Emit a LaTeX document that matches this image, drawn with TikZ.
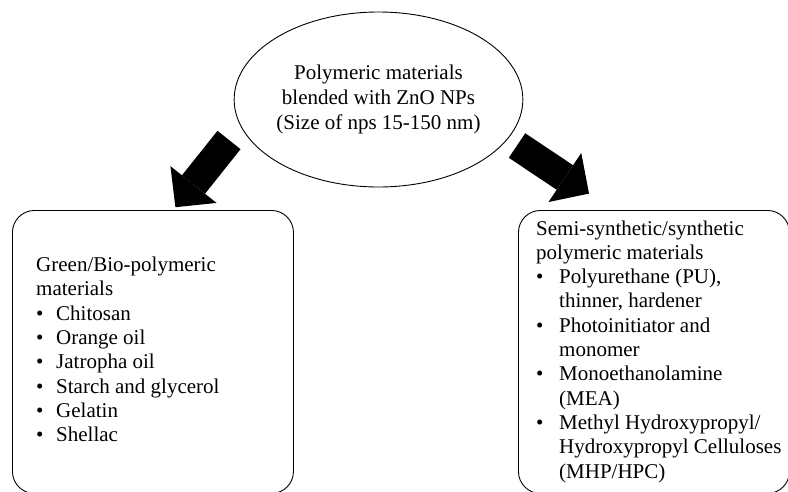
\documentclass[tikz,border=0pt]{standalone}
\usepackage{fontspec}
\setmainfont{Liberation Serif}
\usetikzlibrary{shapes.geometric,arrows.meta}
\newcommand{\bulletcell}[1]{\makebox[#1][l]{\textbullet}}
\tikzset{
  bubble/.style={draw, ellipse, line width=0.9pt, minimum width=283pt, minimum height=175pt,
    inner sep=0pt, align=center, font=\fontsize{21}{25}\selectfont},
  panel/.style={draw, rounded corners=22pt, line width=0.9pt, inner sep=0pt, anchor=north west},
  listtext/.style={inner sep=0pt, anchor=base west, font=\fontsize{21}{24.3}\selectfont},
  bigarrow/.style={line width=29.5pt, -{Triangle[width=59pt,length=29pt,line width=0pt]}},
}
\begin{document}
\begin{tikzpicture}[x=1pt,y=-1pt]
\useasboundingbox (0,0) rectangle (788,491);
\node[bubble] (src) at (378.5,99.5) {Polymeric materials\\blended with ZnO NPs\\(Size of nps 15-150 nm)};
\node[panel, minimum width=281pt, minimum height=283pt] (green) at (12,210) {};
\node[panel, minimum width=271pt, minimum height=283pt] (synth) at (518,210) {};
\node[listtext] (greentext) at (36,271.5) {\begin{tabular}[t]{@{}l@{}l@{}}
\multicolumn{2}{@{}l@{}}{Green/Bio-polymeric}\\
\multicolumn{2}{@{}l@{}}{materials}\\
\bulletcell{20pt} & Chitosan\\
\bulletcell{20pt} & Orange oil\\
\bulletcell{20pt} & Jatropha oil\\
\bulletcell{20pt} & Starch and glycerol\\
\bulletcell{20pt} & Gelatin\\
\bulletcell{20pt} & Shellac
\end{tabular}};
\node[listtext] (synthtext) at (536,235) {\begin{tabular}[t]{@{}l@{}l@{}}
\multicolumn{2}{@{}l@{}}{Semi-synthetic/synthetic}\\
\multicolumn{2}{@{}l@{}}{polymeric materials}\\
\bulletcell{23pt} & Polyurethane (PU),\\
 & thinner, hardener\\
\bulletcell{23pt} & Photoinitiator and\\
 & monomer\\
\bulletcell{23pt} & Monoethanolamine\\
 & (MEA)\\
\bulletcell{23pt} & Methyl Hydroxypropyl/\\
 & Hydroxypropyl Celluloses\\
 & (MHP/HPC)
\end{tabular}};
\coordinate (gtail) at (229,140);
\coordinate (gtip) at (175.4,207.2);
\coordinate (stail) at (517,145.5);
\coordinate (stip) at (589,193.6);
\draw[bigarrow] (gtail) -- (gtip);
\draw[bigarrow] (stail) -- (stip);
\end{tikzpicture}
\end{document}
